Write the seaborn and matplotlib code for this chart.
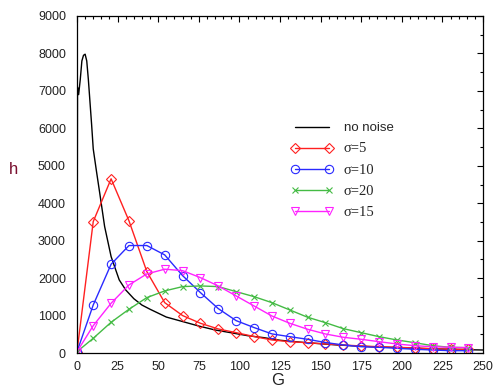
import matplotlib
matplotlib.use("Agg")
import matplotlib.pyplot as plt
import seaborn as sns
import numpy as np
from matplotlib.ticker import MultipleLocator

sns.set_style("white")
plt.rcParams['font.family'] = ['Liberation Sans', 'DejaVu Sans']

# ---- data ----
G_black = [0, 0.3, 1, 2, 3, 4, 5, 6, 7, 8, 9, 10, 11, 12, 14, 17, 21, 26, 30, 35, 40, 45,
           55, 65, 75, 85, 95, 105, 115, 125, 140, 160, 180, 200, 220, 240, 250]
h_black = [50, 7100, 6900, 7300, 7800, 7950, 7980, 7800, 7300, 6700, 6100, 5450, 5150, 4850,
           4270, 3380, 2575, 1952, 1684, 1450, 1280, 1168, 960, 840, 720, 615, 540, 463,
           410, 340, 280, 215, 170, 140, 110, 88, 80]

G_mark = [0, 10, 21, 32, 43, 54, 65, 76, 87, 98, 109, 120, 131, 142, 153, 164, 175, 186,
          197, 208, 219, 230, 241]
h_s5 = [35, 3510, 4652, 3530, 2174, 1345, 1000, 794, 642, 543, 440, 348, 302, 275, 241,
        214, 187, 168, 152, 134, 115, 99, 99]
h_s10 = [35, 1283, 2371, 2870, 2870, 2620, 2067, 1613, 1185, 864, 680, 510, 436, 366, 280,
         214, 168, 152, 126, 99, 80, 62, 62]
h_s20 = [35, 393, 821, 1168, 1479, 1658, 1773, 1791, 1773, 1639, 1505, 1345, 1150, 955,
         810, 650, 543, 436, 348, 275, 195, 152, 142]
h_s15 = [35, 730, 1329, 1818, 2112, 2238, 2200, 2013, 1791, 1524, 1257, 989, 794, 634,
         508, 420, 366, 302, 241, 195, 168, 152, 142]

labels = ["no noise", "σ=5", "σ=10", "σ=20", "σ=15"]
x_ticks = [0, 25, 50, 75, 100, 125, 150, 175, 200, 225, 250]
y_ticks = [0, 1000, 2000, 3000, 4000, 5000, 6000, 7000, 8000, 9000]

fig = plt.figure(figsize=(4.94, 3.92), dpi=100)
ax = fig.add_axes([77/494, 1-353/392, (483-77)/494, (353-16)/392])

sns.lineplot(x=G_black, y=h_black, color="black", lw=1.0, ax=ax, label=labels[0])
sns.lineplot(x=G_mark, y=h_s5, color="#ff2020", lw=1.0, marker="D", markersize=4.8,
             markerfacecolor="none", markeredgecolor="#ff2020", markeredgewidth=0.8,
             ax=ax, label=labels[1])
sns.lineplot(x=G_mark, y=h_s10, color="#2a2aff", lw=1.0, marker="o", markersize=6,
             markerfacecolor="none", markeredgecolor="#2a2aff", markeredgewidth=0.8,
             ax=ax, label=labels[2])
sns.lineplot(x=G_mark, y=h_s20, color="#44bb44", lw=1.0, marker="x", markersize=5,
             markeredgecolor="#44bb44", markeredgewidth=0.8, ax=ax, label=labels[3])
sns.lineplot(x=G_mark, y=h_s15, color="#ff22ff", lw=1.0, marker="v", markersize=6,
             markerfacecolor="none", markeredgecolor="#ff22ff", markeredgewidth=0.8,
             ax=ax, label=labels[4])

ax.set_xlim(0, 250)
ax.set_ylim(0, 9000)
ax.set_xticks(x_ticks)
ax.set_yticks(y_ticks)
ax.xaxis.set_minor_locator(MultipleLocator(5))
ax.yaxis.set_minor_locator(MultipleLocator(500))
ax.tick_params(which="both", direction="in", top=True, right=True, colors="black",
               labelcolor="#222222", labelsize=9)
ax.tick_params(which="major", length=4, width=0.8)
ax.tick_params(which="minor", length=2, width=0.8)
ax.tick_params(axis="y", pad=8)
ax.tick_params(axis="x", pad=6)
for s in ax.spines.values():
    s.set_visible(True)
    s.set_color("black")
    s.set_linewidth(0.9)

ax.set_xlabel("G", fontsize=12, color="#222222")
ax.xaxis.set_label_coords((278-77)/406, -0.06)
ax.set_ylabel("h", fontsize=12, color="#7a1030", rotation=0, va="center", ha="center")
ax.yaxis.set_label_coords((14-77)/406, (353-170)/337)

leg = ax.legend(loc="upper left", bbox_to_anchor=((291-77)/406, (353-122)/337),
                frameon=False, fontsize=9.5, handlelength=3.2, handletextpad=0.8,
                labelspacing=0.62, borderpad=0, borderaxespad=0, numpoints=2)
for i, t in enumerate(leg.get_texts()):
    if i > 0:
        t.set_family(["Liberation Serif", "DejaVu Serif"])
        t.set_fontsize(10.5)

fig.savefig("out.png", dpi=100)
